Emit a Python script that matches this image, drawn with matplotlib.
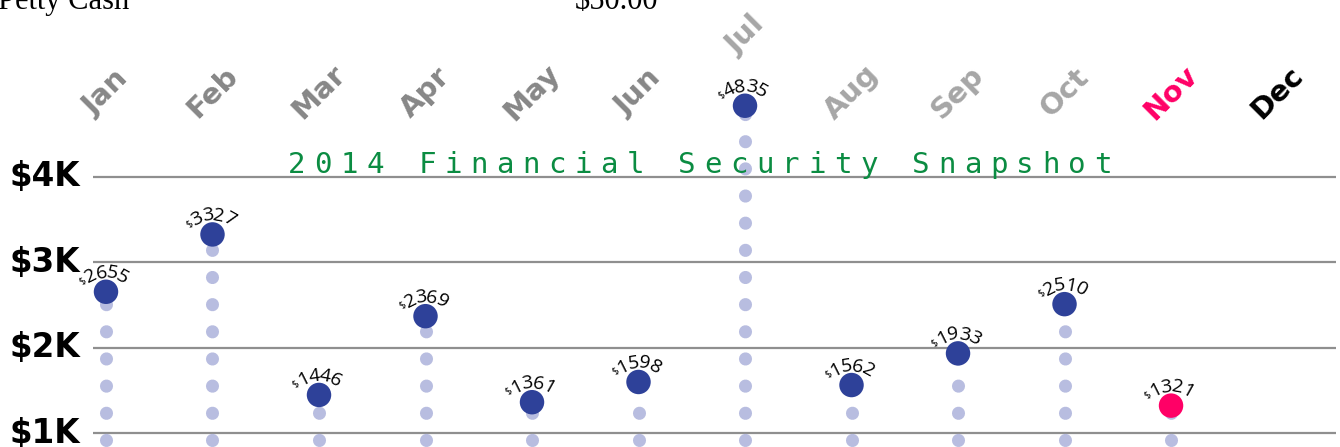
import math
import matplotlib
matplotlib.use("Agg")
import matplotlib.pyplot as plt
from matplotlib import transforms

# ---- data ----
months = ["Jan", "Feb", "Mar", "Apr", "May", "Jun", "Jul", "Aug", "Sep", "Oct", "Nov", "Dec"]
values = [2655, 3327, 1446, 2369, 1361, 1598, 4835, 1562, 1933, 2510, 1321, None]
month_colors = ["#878787"] * 6 + ["#a6a6a6"] * 4 + ["#ff0066", "#000000"]
dot_colors = ["#2e4199"] * 10 + ["#ff0066", "#2e4199"]
grid_values = [1000, 2000, 3000, 4000]
grid_labels = ["$1K", "$2K", "$3K", "$4K"]
title = "2014 Financial Security Snapshot"
header_left = "Petty Cash"
header_right = "$50.00"

W, H = 1340, 447
fig = plt.figure(figsize=(W / 100, H / 100), dpi=100)
fig.patch.set_facecolor("white")


def fx(px):
    return px / W


def fy(py):
    return 1 - py / H


ax = fig.add_axes([fx(93), 0, (1336 - 93) / W, 1])
ax.set_xlim(-0.122, 11.549)
ax.set_ylim(836, 6074)
ax.axis("off")

# gridlines
for g in grid_values:
    ax.axhline(g, color="#8f8f8f", lw=1.6, zorder=1)

# y labels
tr = transforms.blended_transform_factory(fig.transFigure, ax.transData)
for g, lab in zip(grid_values, grid_labels):
    ax.text(fx(9), g, lab, transform=tr, ha="left", va="center",
            fontsize=23.5, fontweight="bold", family="DejaVu Sans", color="black",
            clip_on=False)

# dotted stems
xs = [i for i, v in enumerate(values) if v is not None]
vs = [v for v in values if v is not None]
ax.vlines(xs, 918, vs, colors="#b8bde0", linewidth=9.4,
          linestyles=[(0, (0.01, 2.07))], capstyle="round", zorder=2)

# big dots
ax.scatter(xs, vs, s=310, c=[dot_colors[i] for i in xs], zorder=3, linewidths=0)

# month labels
for i, (m, c) in enumerate(zip(months, month_colors)):
    v = values[i] if values[i] is not None else 0
    y = max(4990, v + 820)
    ax.text(i, y, m, rotation=45, ha="center", va="center", rotation_mode="anchor",
            fontsize=21, fontweight="bold", family="DejaVu Sans", color=c, clip_on=False)


# curved value labels
def arc_label(x, v, txt):
    R, cy, shift = 34.0, -15.0, -3.0
    glyphs = [("$", 7, 7.5)] + [(d, 14, 11.0) for d in txt]
    total = sum(g[2] for g in glyphs)
    s = -total / 2 + shift
    for ch, fs, adv in glyphs:
        sc = s + adv / 2
        phi = sc / R
        px = R * math.sin(phi)
        py = cy + R * math.cos(phi)
        ax.annotate(ch, xy=(x, v), xytext=(px * 0.72, py * 0.72), textcoords="offset points",
                    ha="center", va="center", rotation=-math.degrees(phi),
                    rotation_mode="anchor", fontsize=fs, family="Open Sans",
                    color="black", zorder=4, annotation_clip=False)
        s += adv


for x, v in zip(xs, vs):
    arc_label(x, v, str(v))

# title with letter spacing
x0, adv = 297, 26.0
for k, ch in enumerate(title):
    if ch == " ":
        continue
    fig.text(fx(x0 + k * adv), fy(173), ch, ha="center", va="baseline",
             fontsize=21, family="DejaVu Sans Mono", color="#0b8c42")

# clipped header text
fig.text(fx(-2), fy(9), header_left, ha="left", va="baseline", fontsize=22,
         family="Liberation Serif", color="black")
fig.text(fx(575), fy(9), header_right, ha="left", va="baseline", fontsize=22,
         family="Liberation Serif", color="black")

fig.savefig("out.png", dpi=100, facecolor="white")
